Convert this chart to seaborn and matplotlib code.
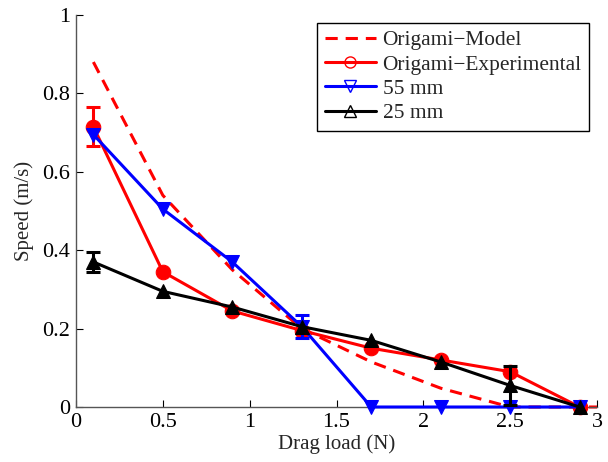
import numpy as np
import pandas as pd
import matplotlib
matplotlib.use("Agg")
import matplotlib.pyplot as plt
import seaborn as sns
from matplotlib.lines import Line2D

load = [0.1, 0.5, 0.9, 1.3, 1.7, 2.1, 2.5, 2.9]
model_load = [0.1, 0.5, 0.9, 1.3, 1.7, 2.1, 2.5, 2.9, 3.0]
model_speed = [0.88, 0.54, 0.35, 0.20, 0.115, 0.048, 0.0, 0.0, 0.0]
exp_speed = [0.715, 0.345, 0.245, 0.195, 0.15, 0.12, 0.09, 0.0]
exp_err = [0.05, 0.0, 0.0, 0.0, 0.0, 0.0, 0.0, 0.0]
s55_speed = [0.695, 0.505, 0.37, 0.205, 0.0, 0.0, 0.0, 0.0]
s55_err = [0.0, 0.0, 0.0, 0.03, 0.0, 0.0, 0.0, 0.0]
s25_speed = [0.37, 0.295, 0.255, 0.205, 0.17, 0.115, 0.055, 0.0]
s25_err = [0.025, 0.0, 0.0, 0.0, 0.0, 0.0, 0.05, 0.0]

labels = ["Origami\u2212Model", "Origami\u2212Experimental", "55 mm", "25 mm"]

sns.set_theme(style="white")
plt.rcParams["font.family"] = ["Liberation Serif", "DejaVu Serif"]

fig = plt.figure(figsize=(6.08, 4.62), dpi=100)
ax = fig.add_axes([76/608, 1-407/462, (597-76)/608, (407-15)/462])

lw = 2.2
dash = (0, (4, 2.6))
sns.lineplot(x=model_load, y=model_speed, ax=ax, color="red", lw=lw,
             linestyle=dash, zorder=2, clip_on=False)
series = [
    (exp_speed, exp_err, "red", "o"),
    (s55_speed, s55_err, "blue", "v"),
    (s25_speed, s25_err, "black", "^"),
]
for vals, err, col, mk in series:
    sns.lineplot(x=load, y=vals, ax=ax, color=col, lw=lw, marker=mk,
                 markersize=10.5, markeredgecolor=col, markerfacecolor=col,
                 zorder=3, clip_on=False)
    e = np.array(err)
    idx = e > 0
    ax.errorbar(np.array(load)[idx], np.array(vals)[idx], yerr=e[idx], fmt="none",
                ecolor=col, elinewidth=lw, capsize=5, capthick=lw, zorder=3)

ax.set_xlim(0, 3)
ax.set_ylim(0, 1)
ax.set_xticks([0, 0.5, 1, 1.5, 2, 2.5, 3])
ax.set_xticklabels(["0", "0.5", "1", "1.5", "2", "2.5", "3"])
ax.set_yticks([0, 0.2, 0.4, 0.6, 0.8, 1])
ax.set_yticklabels(["0", "0.2", "0.4", "0.6", "0.8", "1"])
ax.tick_params(direction="in", length=5, width=0.8, labelsize=16, colors="black",
               top=False, right=False, bottom=True, left=True, pad=4)
for s in ["left", "bottom"]:
    ax.spines[s].set_color("#555555")
    ax.spines[s].set_linewidth(1.0)
for s in ["top", "right"]:
    ax.spines[s].set_visible(False)
ax.set_xlabel("Drag load (N)", fontsize=15, labelpad=2)
ax.set_ylabel("Speed (m/s)", fontsize=15, labelpad=6)

handles = [
    Line2D([], [], color="red", lw=lw, linestyle=dash),
    Line2D([], [], color="red", lw=lw, marker="o", markersize=8, markerfacecolor="none", markeredgewidth=1),
    Line2D([], [], color="blue", lw=lw, marker="v", markersize=8, markerfacecolor="none", markeredgewidth=1),
    Line2D([], [], color="black", lw=lw, marker="^", markersize=8, markerfacecolor="none", markeredgewidth=1),
]
leg = ax.legend(handles, labels, loc="upper right", bbox_to_anchor=(0.985, 0.98),
                fontsize=15.4, frameon=True, fancybox=False, framealpha=1,
                edgecolor="black", handlelength=2.4, handletextpad=0.3,
                labelspacing=0.2, borderpad=0.35, borderaxespad=0)
leg.get_frame().set_linewidth(1.0)

fig.savefig("out.png", dpi=100)
